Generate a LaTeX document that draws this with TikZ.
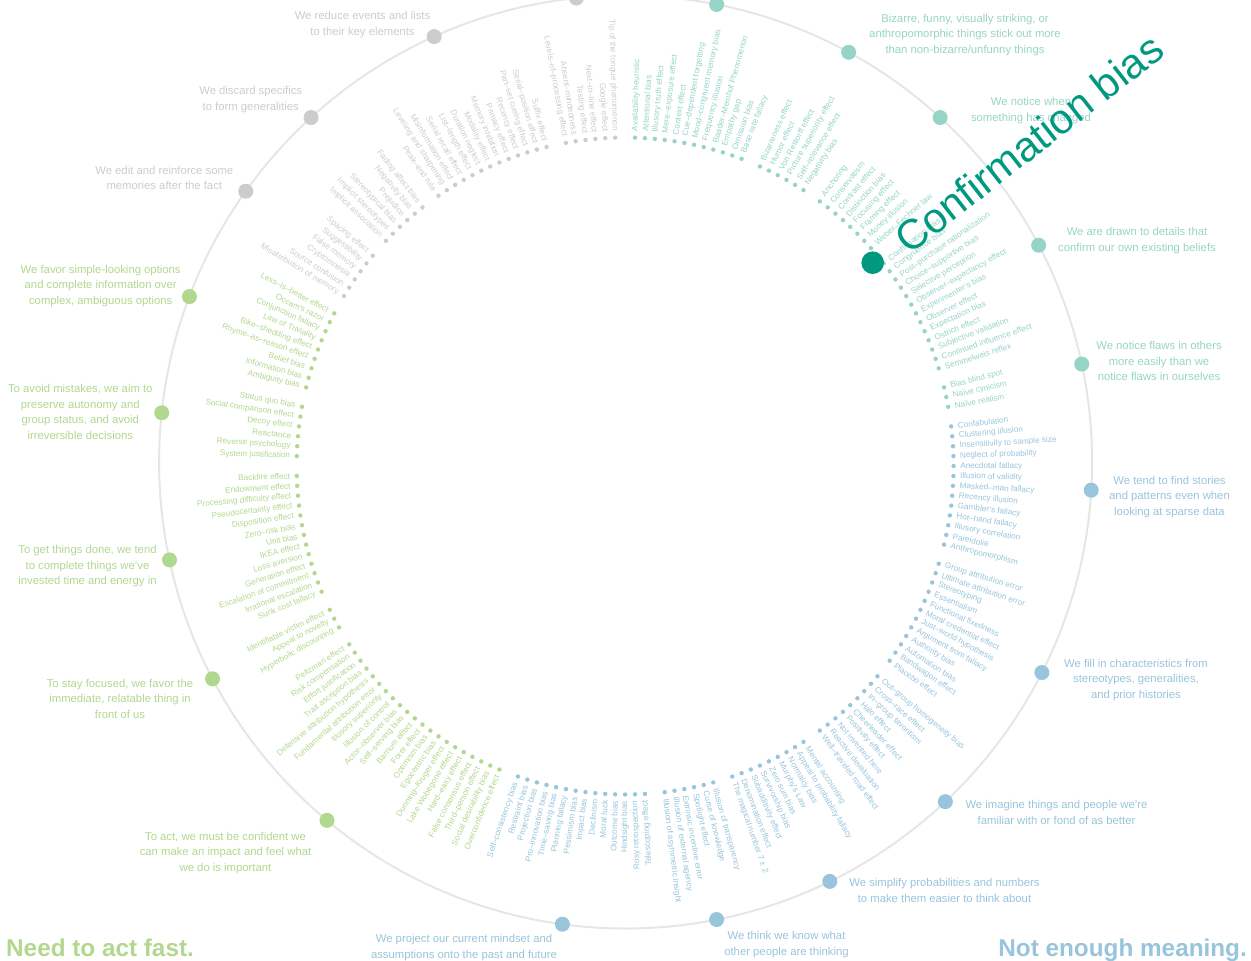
\documentclass[tikz,border=0pt]{standalone}
\usepackage{fontspec}
\setmainfont{Liberation Sans}
\definecolor{memgrey}{RGB}{204,204,204}
\definecolor{infoteal}{RGB}{150,212,200}
\definecolor{confteal}{RGB}{0,153,128}
\definecolor{meanblue}{RGB}{152,196,220}
\definecolor{fastgreen}{RGB}{178,215,142}
\definecolor{ringgrey}{RGB}{230,230,230}

\begin{document}
\begin{tikzpicture}
  [x=1pt,y=1pt,
   dot/.style={circle,inner sep=0,minimum size=4.4pt},
   hub/.style={circle,inner sep=0,minimum size=15pt},
   rlab/.style={anchor=west,inner sep=0,font=\fontsize{8.2}{9}\selectfont},
   llab/.style={anchor=east,inner sep=0,font=\fontsize{8.2}{9}\selectfont},
   note/.style={align=center,inner sep=0,font=\fontsize{11.3}{15.5}\selectfont}]
  \useasboundingbox (0,0) rectangle (1251,-961);
  \coordinate (O) at (625.6,-462);
  \coordinate (I) at (625.1,-466);
  \draw[ringgrey,line width=2pt] (O) circle (466.5);

  % too much information
  \foreach \b [count=\k from 0] in {Availability heuristic,Attentional bias,Illusory truth effect,Mere--exposure effect,Context effect,Cue--dependent forgetting,Mood--congruent memory bias,Frequency illusion,Baader--Meinhof Phenomenon,Empathy gap,Omission bias,Base rate fallacy}
   {\pgfmathsetmacro\a{90-(\k+1)*1.7307692}
    \node[dot,fill=infoteal] (d\k) at ([shift={(\a:328.5)}]I) {};
    \node[rlab,infoteal,rotate=\a] (l\k) at ([shift={(\a:6.5)}]d\k.center) {\b};}
  \foreach \b [count=\k from 13] in {Bizarreness effect,Humor effect,Von Restorff effect,Picture superiority effect,Self--relevance effect,Negativity bias}
   {\pgfmathsetmacro\a{90-(\k+1)*1.7307692}
    \node[dot,fill=infoteal] (d\k) at ([shift={(\a:328.5)}]I) {};
    \node[rlab,infoteal,rotate=\a] (l\k) at ([shift={(\a:6.5)}]d\k.center) {\b};}
  \foreach \b [count=\k from 20] in {Anchoring,Conservatism,Contrast effect,Distinction bias,Focusing effect,Framing effect,Money illusion,Weber--Fechner law}
   {\pgfmathsetmacro\a{90-(\k+1)*1.7307692}
    \node[dot,fill=infoteal] (d\k) at ([shift={(\a:328.5)}]I) {};
    \node[rlab,infoteal,rotate=\a] (l\k) at ([shift={(\a:6.5)}]d\k.center) {\b};}
  \foreach \b [count=\k from 29] in {Confirmation bias,Congruence bias,Post--purchase rationalization,Choice--supportive bias,Selective perception,Observer--expectancy effect,Experimenter's bias,Observer effect,Expectation bias,Ostrich effect,Subjective validation,Continued influence effect,Semmelweis reflex}
   {\pgfmathsetmacro\a{90-(\k+1)*1.7307692}
    \node[dot,fill=infoteal] (d\k) at ([shift={(\a:328.5)}]I) {};
    \node[rlab,infoteal,rotate=\a] (l\k) at ([shift={(\a:6.5)}]d\k.center) {\b};}
  \foreach \b [count=\k from 43] in {Bias blind spot,Naïve cynicism,Naïve realism}
   {\pgfmathsetmacro\a{90-(\k+1)*1.7307692}
    \node[dot,fill=infoteal] (d\k) at ([shift={(\a:328.5)}]I) {};
    \node[rlab,infoteal,rotate=\a] (l\k) at ([shift={(\a:6.5)}]d\k.center) {\b};}

  % not enough meaning
  \foreach \b [count=\k from 47] in {Confabulation,Clustering illusion,Insensitivity to sample size,Neglect of probability,Anecdotal fallacy,Illusion of validity,Masked--man fallacy,Recency illusion,Gambler's fallacy,Hot--hand fallacy,Illusory correlation,Pareidolia,Anthropomorphism}
   {\pgfmathsetmacro\a{90-(\k+1)*1.7307692}
    \node[dot,fill=meanblue] (d\k) at ([shift={(\a:328.5)}]I) {};
    \node[rlab,meanblue,rotate=\a] (l\k) at ([shift={(\a:6.5)}]d\k.center) {\b};}
  \foreach \b [count=\k from 61] in {Group attribution error,Ultimate attribution error,Stereotyping,Essentialism,Functional fixedness,Moral credential effect,Just--world hypothesis,Argument from fallacy,Authority bias,Automation bias,Bandwagon effect,Placebo effect}
   {\pgfmathsetmacro\a{90-(\k+1)*1.7307692}
    \node[dot,fill=meanblue] (d\k) at ([shift={(\a:328.5)}]I) {};
    \node[rlab,meanblue,rotate=\a] (l\k) at ([shift={(\a:6.5)}]d\k.center) {\b};}
  \foreach \b [count=\k from 74] in {Out--group homogeneity bias,Cross--race effect,In--group favoritism,Halo effect,Cheerleader effect,Positivity effect,Not invented here,Reactive devaluation,Well--traveled road effect}
   {\pgfmathsetmacro\a{90-(\k+1)*1.7307692}
    \node[dot,fill=meanblue] (d\k) at ([shift={(\a:328.5)}]I) {};
    \node[rlab,meanblue,rotate=\a] (l\k) at ([shift={(\a:6.5)}]d\k.center) {\b};}
  \foreach \b [count=\k from 84] in {Mental accounting,Appeal to probability fallacy,Normalcy bias,Murphy's Law,Zero sum bias,Survivorship bias,Subadditivity effect,Denomination effect,The magical number 7 ± 2}
   {\pgfmathsetmacro\a{90-(\k+1)*1.7307692}
    \node[dot,fill=meanblue] (d\k) at ([shift={(\a:328.5)}]I) {};
    \node[rlab,meanblue,rotate=\a] (l\k) at ([shift={(\a:6.5)}]d\k.center) {\b};}
  \foreach \b [count=\k from 94] in {Illusion of transparency,Curse of knowledge,Spotlight effect,Extrinsic incentive error,Illusion of external agency,Illusion of asymmetric insight}
   {\pgfmathsetmacro\a{90-(\k+1)*1.7307692}
    \node[dot,fill=meanblue] (d\k) at ([shift={(\a:328.5)}]I) {};
    \node[rlab,meanblue,rotate=\a] (l\k) at ([shift={(\a:6.5)}]d\k.center) {\b};}
  \foreach \b [count=\k from 101] in {Telescoping effect,Rosy retrospection,Hindsight bias,Outcome bias,Moral luck,Declinism,Impact bias,Pessimism bias,Planning fallacy,Time--saving bias,Pro--innovation bias,Projection bias,Restraint bias,Self--consistency bias}
   {\pgfmathsetmacro\a{90-(\k+1)*1.7307692}
    \node[dot,fill=meanblue] (d\k) at ([shift={(\a:328.5)}]I) {};
    \node[llab,meanblue,rotate=\a+180] (l\k) at ([shift={(\a:6.5)}]d\k.center) {\b};}

  % need to act fast
  \foreach \b [count=\k from 116] in {Overconfidence effect,Social desirability bias,Third--person effect,False consensus effect,Hard--easy effect,Lake Wobegone effect,Dunning--Kruger effect,Egocentric bias,Optimism bias,Forer effect,Barnum effect,Self--serving bias,Actor--observer bias,Illusion of control,Illusory superiority,Fundamental attribution error,Defensive attribution hypothesis,Trait ascription bias,Effort justification,Risk compensation,Peltzman effect}
   {\pgfmathsetmacro\a{90-(\k+1)*1.7307692}
    \node[dot,fill=fastgreen] (d\k) at ([shift={(\a:328.5)}]I) {};
    \node[llab,fastgreen,rotate=\a+180] (l\k) at ([shift={(\a:6.5)}]d\k.center) {\b};}
  \foreach \b [count=\k from 138] in {Hyperbolic discounting,Appeal to novelty,Identifiable victim effect}
   {\pgfmathsetmacro\a{90-(\k+1)*1.7307692}
    \node[dot,fill=fastgreen] (d\k) at ([shift={(\a:328.5)}]I) {};
    \node[llab,fastgreen,rotate=\a+180] (l\k) at ([shift={(\a:6.5)}]d\k.center) {\b};}
  \foreach \b [count=\k from 142] in {Sunk cost fallacy,Irrational escalation,Escalation of commitment,Generation effect,Loss aversion,IKEA effect,Unit bias,Zero--risk bias,Disposition effect,Pseudocertainty effect,Processing difficulty effect,Endowment effect,Backfire effect}
   {\pgfmathsetmacro\a{90-(\k+1)*1.7307692}
    \node[dot,fill=fastgreen] (d\k) at ([shift={(\a:328.5)}]I) {};
    \node[llab,fastgreen,rotate=\a+180] (l\k) at ([shift={(\a:6.5)}]d\k.center) {\b};}
  \foreach \b [count=\k from 156] in {System justification,Reverse psychology,Reactance,Decoy effect,Social comparison effect,Status quo bias}
   {\pgfmathsetmacro\a{90-(\k+1)*1.7307692}
    \node[dot,fill=fastgreen] (d\k) at ([shift={(\a:328.5)}]I) {};
    \node[llab,fastgreen,rotate=\a+180] (l\k) at ([shift={(\a:6.5)}]d\k.center) {\b};}
  \foreach \b [count=\k from 163] in {Ambiguity bias,Information bias,Belief bias,Rhyme--as--reason effect,Bike--shedding effect,Law of Triviality,Conjunction fallacy,Occam's razor,Less--is--better effect}
   {\pgfmathsetmacro\a{90-(\k+1)*1.7307692}
    \node[dot,fill=fastgreen] (d\k) at ([shift={(\a:328.5)}]I) {};
    \node[llab,fastgreen,rotate=\a+180] (l\k) at ([shift={(\a:6.5)}]d\k.center) {\b};}

  % what should we remember
  \foreach \b [count=\k from 173] in {Misattribution of memory,Source confusion,Cryptomnesia,False memory,Suggestibility,Spacing effect}
   {\pgfmathsetmacro\a{90-(\k+1)*1.7307692}
    \node[dot,fill=memgrey] (d\k) at ([shift={(\a:328.5)}]I) {};
    \node[llab,memgrey,rotate=\a+180] (l\k) at ([shift={(\a:6.5)}]d\k.center) {\b};}
  \foreach \b [count=\k from 180] in {Implicit association,Implicit stereotypes,Stereotypical bias,Prejudice,Negativity bias,Fading affect bias}
   {\pgfmathsetmacro\a{90-(\k+1)*1.7307692}
    \node[dot,fill=memgrey] (d\k) at ([shift={(\a:328.5)}]I) {};
    \node[llab,memgrey,rotate=\a+180] (l\k) at ([shift={(\a:6.5)}]d\k.center) {\b};}
  \foreach \b [count=\k from 187] in {Peak--end rule,Leveling and sharpening,Misinformation effect,Serial recall effect,List--length effect,Duration neglect,Modality effect,Memory inhibition,Primacy effect,Recency effect,Part--set cueing effect,Serial--position effect,Suffix effect}
   {\pgfmathsetmacro\a{90-(\k+1)*1.7307692}
    \node[dot,fill=memgrey] (d\k) at ([shift={(\a:328.5)}]I) {};
    \node[llab,memgrey,rotate=\a+180] (l\k) at ([shift={(\a:6.5)}]d\k.center) {\b};}
  \foreach \b [count=\k from 201] in {Levels--of--processing effect,Absent--mindedness,Testing effect,Next--in--line effect,Google effect,Tip of the tongue phenomenon}
   {\pgfmathsetmacro\a{90-(\k+1)*1.7307692}
    \node[dot,fill=memgrey] (d\k) at ([shift={(\a:328.5)}]I) {};
    \node[llab,memgrey,rotate=\a+180] (l\k) at ([shift={(\a:6.5)}]d\k.center) {\b};}

  % hubs on the ring
  \foreach \m/\c [count=\n] in {5.5/infoteal,15.5/infoteal,23.5/infoteal,35/infoteal,44/infoteal,53/meanblue,66.5/meanblue,78/meanblue,88/meanblue,96.5/meanblue,107.5/meanblue,126/fastgreen,139/fastgreen,148/fastgreen,158.5/fastgreen,167/fastgreen,175.5/memgrey,182.5/memgrey,193/memgrey,203.5/memgrey}
    \node[hub,fill=\c] (h\n) at ([shift={({90-(\m+1)*1.7307692}:466.5)}]O) {};

  \node[note,infoteal] (n2) at (965,-34.7) {Bizarre, funny, visually striking, or\\anthropomorphic things stick out more\\than non-bizarre/unfunny things};
  \node[note,infoteal] (n3) at (1031,-110.5) {We notice when\\something has changed};
  \node[note,infoteal] (n4) at (1137,-240.5) {We are drawn to details that\\confirm our own existing beliefs};
  \node[note,infoteal] (n5) at (1159,-361.3) {We notice flaws in others\\more easily than we\\notice flaws in ourselves};
  \node[note,meanblue] (n6) at (1169.5,-496.7) {We tend to find stories\\and patterns even when\\looking at sparse data};
  \node[note,meanblue] (n7) at (1136,-680) {We fill in characteristics from\\stereotypes, generalities,\\and prior histories};
  \node[note,meanblue] (n8) at (1056.5,-812.5) {We imagine things and people we're\\familiar with or fond of as better};
  \node[note,meanblue] (n9) at (944.5,-890.5) {We simplify probabilities and numbers\\to make them easier to think about};
  \node[note,meanblue] (n10) at (786.5,-944.5) {We think we know what\\other people are thinking};
  \node[note,meanblue] (n11) at (464,-947.5) {We project our current mindset and\\assumptions onto the past and future};
  \node[note,fastgreen] (n12) at (225.5,-852.7) {To act, we must be confident we\\can make an impact and feel what\\we do is important};
  \node[note,fastgreen] (n13) at (120,-698.5) {To stay focused, we favor the\\immediate, relatable thing in\\front of us};
  \node[note,fastgreen] (n14) at (87.5,-566.3) {To get things done, we tend\\to complete things we've\\invested time and energy in};
  \node[note,fastgreen] (n15) at (80.3,-412) {To avoid mistakes, we aim to\\preserve autonomy and\\group status, and avoid\\irreversible decisions};
  \node[note,fastgreen] (n16) at (100.7,-285.7) {We favor simple-looking options\\and complete information over\\complex, ambiguous options};
  \node[note,memgrey] (n17) at (164.3,-178) {We edit and reinforce some\\memories after the fact};
  \node[note,memgrey] (n18) at (250.7,-99.5) {We discard specifics\\to form generalities};
  \node[note,memgrey] (n19) at (362.5,-24.5) {We reduce events and lists\\to their key elements};

  \node[circle,inner sep=0,minimum size=22.6pt,fill=confteal] (cb) at (872.7,-262.7) {};
  \node[confteal,rotate=38,anchor=base west,inner sep=0,font=\fontsize{42}{42}\selectfont] (cbt) at (909,-256) {Confirmation bias};

  \node[fastgreen,anchor=base west,inner sep=0,font=\bfseries\fontsize{24.3}{26}\selectfont] (fast) at (6,-956) {Need to act fast.};
  \node[meanblue,anchor=base east,inner sep=0,font=\bfseries\fontsize{24.3}{26}\selectfont] (mean) at (1247,-956) {Not enough meaning.};
\end{tikzpicture}
\end{document}
